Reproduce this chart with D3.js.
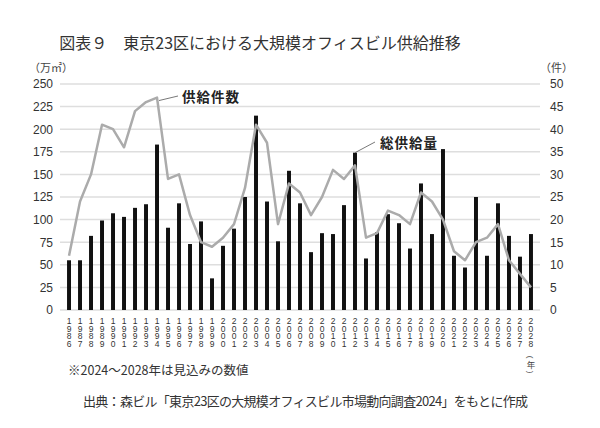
<!DOCTYPE html>
<html>
<head>
<meta charset="utf-8">
<script src="https://cdn.jsdelivr.net/npm/d3@7"></script>
<style>
  body { margin: 0; background: #fff; }
  svg { display: block; }
</style>
</head>
<body>
<svg></svg>
<script>
// years 1986 - 2028
const years = [1986, 1987, 1988, 1989, 1990, 1991, 1992, 1993, 1994, 1995, 1996, 1997, 1998, 1999,
    2000, 2001, 2002, 2003, 2004, 2005, 2006, 2007, 2008, 2009, 2010, 2011, 2012, 2013, 2014,
    2015, 2016, 2017, 2018, 2019, 2020, 2021, 2022, 2023, 2024, 2025, 2026, 2027, 2028];

// 総供給量 (万㎡)
const supply = [55, 55, 82, 99, 107, 103, 113, 117, 183, 91, 118, 73, 98, 35,
    71, 90, 125, 215, 120, 76, 154, 118, 64, 85, 84, 116, 174, 57, 86,
    106, 96, 68, 140, 84, 178, 60, 47, 125, 60, 118, 82, 59, 84];

// 供給件数 (件)
const counts = [12, 24, 30, 41, 40, 36, 44, 46, 47, 29, 30, 21, 15, 14,
    16, 19, 27, 41, 37, 19, 28, 26, 21, 25, 31, 29, 32, 16, 17,
    22, 21, 19, 26, 24, 20, 13, 11, 15, 16, 19, 11, 8, 5];

const leftTicks = [0, 25, 50, 75, 100, 125, 150, 175, 200, 225, 250];
const rightTicks = [0, 5, 10, 15, 20, 25, 30, 35, 40, 45, 50];

const title = "図表９　東京23区における大規模オフィスビル供給推移";
const note = "※2024～2028年は見込みの数値";
const source = "出典：森ビル「東京23区の大規模オフィスビル市場動向調査2024」をもとに作成";

const width = 600;
const height = 428;
const numFont = "'Liberation Sans Narrow', 'Liberation Sans', Arial, sans-serif";
const jpFont = "'Noto Sans CJK JP', 'Noto Sans', sans-serif";

let svg = d3.select('svg')
    .attr("width", width)
    .attr("height", height)
    .style('background-color', '#fff');

let x = d3.scaleBand().domain(years).range([60, 540]).padding(0.64);
let y = d3.scaleLinear().domain([0, 250]).range([310, 84]);
let y2 = d3.scaleLinear().domain([0, 50]).range([310, 84]);

// title
svg.append("text")
    .attr("x", 260).attr("y", 49)
    .attr("text-anchor", "middle")
    .style("font-family", jpFont)
    .style("font-size", "16px")
    .style("fill", "#333")
    .text(title);

// units
svg.append("text")
    .attr("x", 29).attr("y", 72)
    .style("font-family", jpFont).style("font-size", "11px").style("fill", "#444")
    .text("（万㎡）");
svg.append("text")
    .attr("x", 540).attr("y", 72)
    .style("font-family", jpFont).style("font-size", "11px").style("fill", "#444")
    .text("（件）");

// grid lines
svg.append("g")
    .selectAll("line")
    .data(leftTicks)
    .enter().append("line")
    .attr("x1", 60).attr("x2", 540)
    .attr("y1", d => y(d)).attr("y2", d => y(d))
    .style("stroke", "#dedede")
    .style("stroke-width", 1.5);

// left axis
let leftAxis = svg.append("g")
    .attr("transform", "translate(53,0)")
    .call(d3.axisLeft(y).tickValues(leftTicks).tickSize(0).tickPadding(0));
leftAxis.select(".domain").remove();
leftAxis.selectAll("text")
    .style("font-family", numFont).style("font-size", "12px").style("fill", "#333");

// right axis
let rightAxis = svg.append("g")
    .attr("transform", "translate(550,0)")
    .call(d3.axisRight(y2).tickValues(rightTicks).tickSize(0).tickPadding(0));
rightAxis.select(".domain").remove();
rightAxis.selectAll("text")
    .style("font-family", numFont).style("font-size", "12px").style("fill", "#333");

// bars
svg.append("g")
    .selectAll("rect")
    .data(supply)
    .enter().append("rect")
    .attr("x", (d, i) => x(years[i]))
    .attr("y", d => y(d))
    .attr("width", x.bandwidth())
    .attr("height", d => y(0) - y(d))
    .style("fill", "#111");

// count line
let line = d3.line()
    .x((d, i) => x(years[i]) + x.bandwidth() / 2)
    .y(d => y2(d));

svg.append("path")
    .datum(counts)
    .attr("d", line)
    .style("fill", "none")
    .style("stroke", "#ababab")
    .style("stroke-width", 2.5)
    .style("stroke-linejoin", "round");

// x labels, digits stacked vertically
let xLabels = svg.append("g")
    .selectAll("text")
    .data(years)
    .enter().append("text")
    .attr("text-anchor", "middle")
    .style("font-family", numFont)
    .style("font-size", "8.5px")
    .style("fill", "#333");

xLabels.selectAll("tspan")
    .data(d => String(d).split(""))
    .enter().append("tspan")
    .attr("x", function () { return x(+this.parentNode.__data__) + x.bandwidth() / 2; })
    .attr("y", (d, i) => 324 + i * 7.5)
    .text(d => d);

// (年) vertical, parens turned sideways
const nenX = x(2028) + x.bandwidth() / 2;
svg.append("text")
    .attr("transform", `translate(${nenX},357) rotate(90)`)
    .attr("text-anchor", "middle")
    .attr("dy", "0.35em")
    .style("font-family", numFont).style("font-size", "8px").style("fill", "#444")
    .text("(");
svg.append("text")
    .attr("x", nenX).attr("y", 368)
    .attr("text-anchor", "middle")
    .style("font-family", jpFont).style("font-size", "8.5px").style("fill", "#444")
    .text("年");
svg.append("text")
    .attr("transform", `translate(${nenX},372) rotate(90)`)
    .attr("text-anchor", "middle")
    .attr("dy", "0.35em")
    .style("font-family", numFont).style("font-size", "8px").style("fill", "#444")
    .text(")");

// callouts
const i1994 = years.indexOf(1994);
svg.append("line")
    .attr("x1", x(1994) + x.bandwidth() / 2 + 2).attr("y1", y2(counts[i1994]) + 3)
    .attr("x2", 178).attr("y2", 96)
    .style("stroke", "#555").style("stroke-width", 0.8);
svg.append("text")
    .attr("x", 182).attr("y", 102)
    .style("font-family", jpFont).style("font-size", "13.5px").style("font-weight", "bold")
    .style("letter-spacing", "1px").style("fill", "#222")
    .text("供給件数");

const i2012 = years.indexOf(2012);
svg.append("line")
    .attr("x1", x(2012) + x.bandwidth() / 2).attr("y1", y(supply[i2012]))
    .attr("x2", 375).attr("y2", 142)
    .style("stroke", "#555").style("stroke-width", 0.8);
svg.append("text")
    .attr("x", 380).attr("y", 148)
    .style("font-family", jpFont).style("font-size", "13.5px").style("font-weight", "bold")
    .style("letter-spacing", "1px").style("fill", "#222")
    .text("総供給量");

// note and source
svg.append("text")
    .attr("x", 68).attr("y", 375)
    .style("font-family", jpFont).style("font-size", "12.5px").style("fill", "#333")
    .text(note);

svg.append("text")
    .attr("x", 83).attr("y", 406)
    .attr("textLength", 445)
    .style("font-family", jpFont).style("font-size", "13px").style("fill", "#333")
    .text(source);
</script>
</body>
</html>
